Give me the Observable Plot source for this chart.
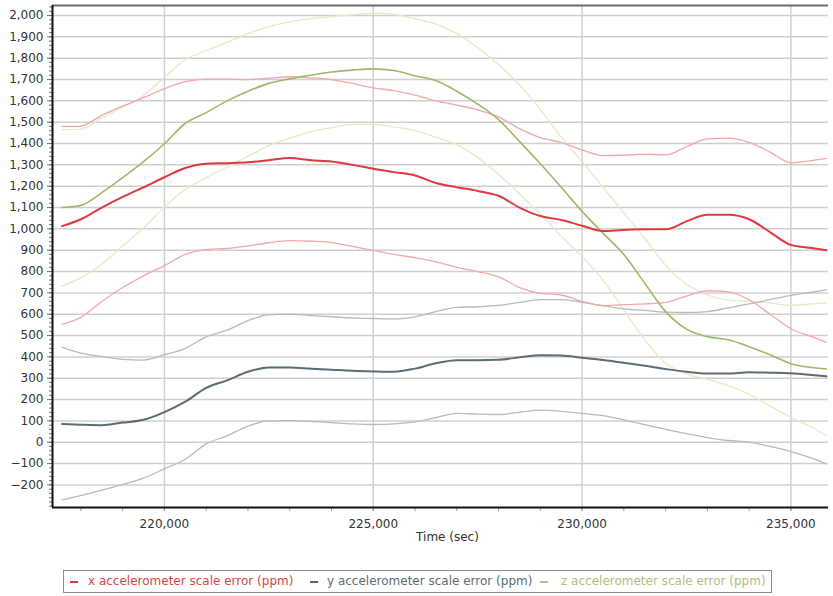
<!DOCTYPE html>
<html>
<head>
<meta charset="utf-8">
<script src="https://cdn.jsdelivr.net/npm/d3@7"></script>
<script src="https://cdn.jsdelivr.net/npm/@observablehq/plot@0.6"></script>
<style>
  body { margin: 0; background: #fff; font-family: "DejaVu Sans", Verdana, sans-serif; }
  #chart { width: 833px; height: 555px; }
  #legend {
    position: absolute; left: 63px; top: 570px; width: 709px; height: 23px;
    border: 1px solid #8a8a8a; box-sizing: border-box; font-size: 12px;
  }
  .item { position: absolute; top: 0; height: 21px; line-height: 21px; white-space: nowrap; }
  .sw { position: absolute; top: 10px; width: 8px; height: 1.5px; }
</style>
</head>
<body>
<div id="chart"></div>
<div id="legend"></div>
<script>
// Time (sec)
const times = [217550, 218000, 218500, 219000, 219500, 220000, 220500, 221000, 221500, 222000,
  222500, 223000, 223500, 224000, 224500, 225000, 225500, 226000, 226500, 227000,
  227500, 228000, 228500, 229000, 229500, 230000, 230500, 231000, 231500, 232000,
  232500, 233000, 233500, 234000, 234500, 235000, 235500, 235850];

// x accelerometer scale error (ppm) and its bounds
const xError = [1013, 1045, 1100, 1150, 1195, 1242, 1285, 1305, 1308, 1312,
  1322, 1332, 1322, 1316, 1300, 1282, 1266, 1250, 1215, 1195,
  1178, 1155, 1100, 1060, 1042, 1015, 990, 995, 998, 998,
  1035, 1066, 1066, 1045, 985, 925, 910, 900];
const xUpper = [1480, 1482, 1532, 1575, 1615, 1657, 1690, 1702, 1702, 1700,
  1706, 1713, 1708, 1700, 1682, 1661, 1648, 1627, 1600, 1580,
  1558, 1525, 1470, 1428, 1405, 1370, 1343, 1345, 1350, 1347,
  1385, 1422, 1425, 1405, 1360, 1310, 1320, 1330];
const xLower = [552, 585, 660, 725, 780, 828, 880, 903, 908, 920,
  935, 945, 942, 936, 918, 899, 880, 865, 845, 820,
  800, 775, 725, 698, 690, 660, 640, 645, 648, 655,
  685, 710, 705, 668, 600, 532, 495, 468];

// y accelerometer scale error (ppm) and its bounds
const yError = [85, 82, 80, 92, 105, 141, 190, 255, 290, 330,
  350, 350, 345, 340, 335, 332, 330, 345, 370, 384,
  384, 386, 398, 408, 406, 396, 385, 372, 358, 343,
  330, 322, 322, 328, 326, 323, 315, 309];
const yUpper = [445, 418, 402, 388, 385, 410, 440, 494, 525, 570,
  597, 600, 594, 588, 583, 580, 578, 588, 612, 632,
  635, 641, 655, 668, 668, 656, 640, 625, 618, 610,
  608, 612, 630, 648, 668, 688, 703, 714];
const yLower = [-270, -250, -225, -198, -168, -125, -80, -8, 30, 75,
  100, 101, 98, 92, 86, 83, 86, 95, 115, 135,
  132, 130, 140, 150, 145, 135, 125, 105, 82, 60,
  40, 22, 8, 0, -20, -44, -75, -102];

// z accelerometer scale error (ppm) and its bounds
const zError = [1100, 1110, 1170, 1240, 1315, 1399, 1495, 1545, 1600, 1645,
  1682, 1703, 1720, 1735, 1744, 1750, 1742, 1718, 1695, 1645,
  1585, 1512, 1410, 1305, 1195, 1082, 980, 880, 745, 612,
  530, 495, 480, 448, 410, 368, 350, 343];
const zUpper = [1465, 1468, 1520, 1570, 1625, 1711, 1793, 1835, 1875, 1915,
  1948, 1970, 1985, 1995, 2003, 2011, 2005, 1985, 1960, 1915,
  1850, 1770, 1675, 1560, 1430, 1315, 1195, 1075, 955, 830,
  740, 690, 666, 660, 652, 642, 648, 652];
const zLower = [732, 770, 835, 920, 1005, 1102, 1185, 1240, 1290, 1340,
  1390, 1425, 1455, 1475, 1490, 1490, 1477, 1460, 1430, 1395,
  1335, 1255, 1165, 1070, 965, 870, 760, 620, 480, 370,
  320, 295, 265, 225, 170, 117, 70, 30];

const xTicks = [220000, 225000, 230000, 235000];
const yTicks = d3.range(-200, 2001, 100);
const xDomain = [217320, 235900];
const yDomain = [-306, 2047];

const legendLabels = [
  "x accelerometer scale error (ppm)",
  "y accelerometer scale error (ppm)",
  "z accelerometer scale error (ppm)"
];

const styles = {
  xError: {stroke: "#e0383e", strokeWidth: 2},
  xBand: {stroke: "#f2a7ae", strokeWidth: 1.3},
  yError: {stroke: "#5d6b73", strokeWidth: 2},
  yBand: {stroke: "#b4babe", strokeWidth: 1.3},
  zError: {stroke: "#9db86b", strokeWidth: 1.6},
  zBand: {stroke: "#e3eac6", strokeWidth: 1.3}
};

const series = (vals) => times.map((t, i) => ({t, v: vals[i]}));
const line = (vals, st) => Plot.line(series(vals), {x: "t", y: "v", curve: "monotone-x", ...st});

const chart = Plot.plot({
  width: 833,
  height: 555,
  marginLeft: 52,
  marginRight: 5,
  marginTop: 5,
  marginBottom: 48,
  style: {fontFamily: "DejaVu Sans, Verdana, sans-serif", fontSize: "12px", color: "#333", background: "#fff"},
  x: {domain: xDomain, axis: null},
  y: {domain: yDomain, axis: null},
  marks: [
    Plot.gridY(yTicks, {stroke: "#cfcfcf", strokeOpacity: 1, strokeWidth: 1.5}),
    Plot.gridX(xTicks, {stroke: "#cfcfcf", strokeOpacity: 1, strokeWidth: 1.5}),
    Plot.ruleY([yDomain[1]], {stroke: "#6a6a6a", strokeWidth: 2}),
    line(zUpper, styles.zBand),
    line(zLower, styles.zBand),
    line(yUpper, styles.yBand),
    line(yLower, styles.yBand),
    line(xUpper, styles.xBand),
    line(xLower, styles.xBand),
    line(zError, styles.zError),
    line(yError, styles.yError),
    line(xError, styles.xError),
    Plot.axisY(d3.range(-300, 2041, 20), {tickSize: 3, tickFormat: () => "", stroke: "#777", label: null}),
    Plot.axisY(yTicks, {tickSize: 5, tickPadding: 4, tickFormat: d3.format(","), fontSize: 12, stroke: "#777", label: null}),
    Plot.axisX(d3.range(218000, 235001, 1000), {tickSize: 4, tickFormat: () => "", stroke: "#999", label: null}),
    Plot.axisX(xTicks, {tickSize: 4, tickPadding: 8, tickFormat: d3.format(","), fontSize: 12, stroke: "#999", label: null}),
    Plot.ruleX([xDomain[0]], {stroke: "#111", strokeWidth: 2}),
    Plot.ruleY([yDomain[0]], {stroke: "#111", strokeWidth: 2}),
    Plot.text(["Time (sec)"], {frameAnchor: "bottom", dy: 33, dx: 7, fontSize: 12, fill: "#333"})
  ]
});
document.getElementById("chart").appendChild(chart);

// Legend
const legend = document.getElementById("legend");
const legendColors = [styles.xError.stroke, styles.yError.stroke, "#b4c68a"];
const textColors = ["#d9434c", "#5d6b73", "#aebf80"];
const swatchX = [6, 246, 476];
const textX = [24, 263, 497];
legendLabels.forEach((lab, i) => {
  const sw = document.createElement("div");
  sw.className = "sw";
  sw.style.left = swatchX[i] + "px";
  sw.style.background = legendColors[i];
  legend.appendChild(sw);
  const it = document.createElement("div");
  it.className = "item";
  it.style.left = textX[i] + "px";
  it.style.color = textColors[i];
  it.textContent = lab;
  legend.appendChild(it);
});
</script>
</body>
</html>
